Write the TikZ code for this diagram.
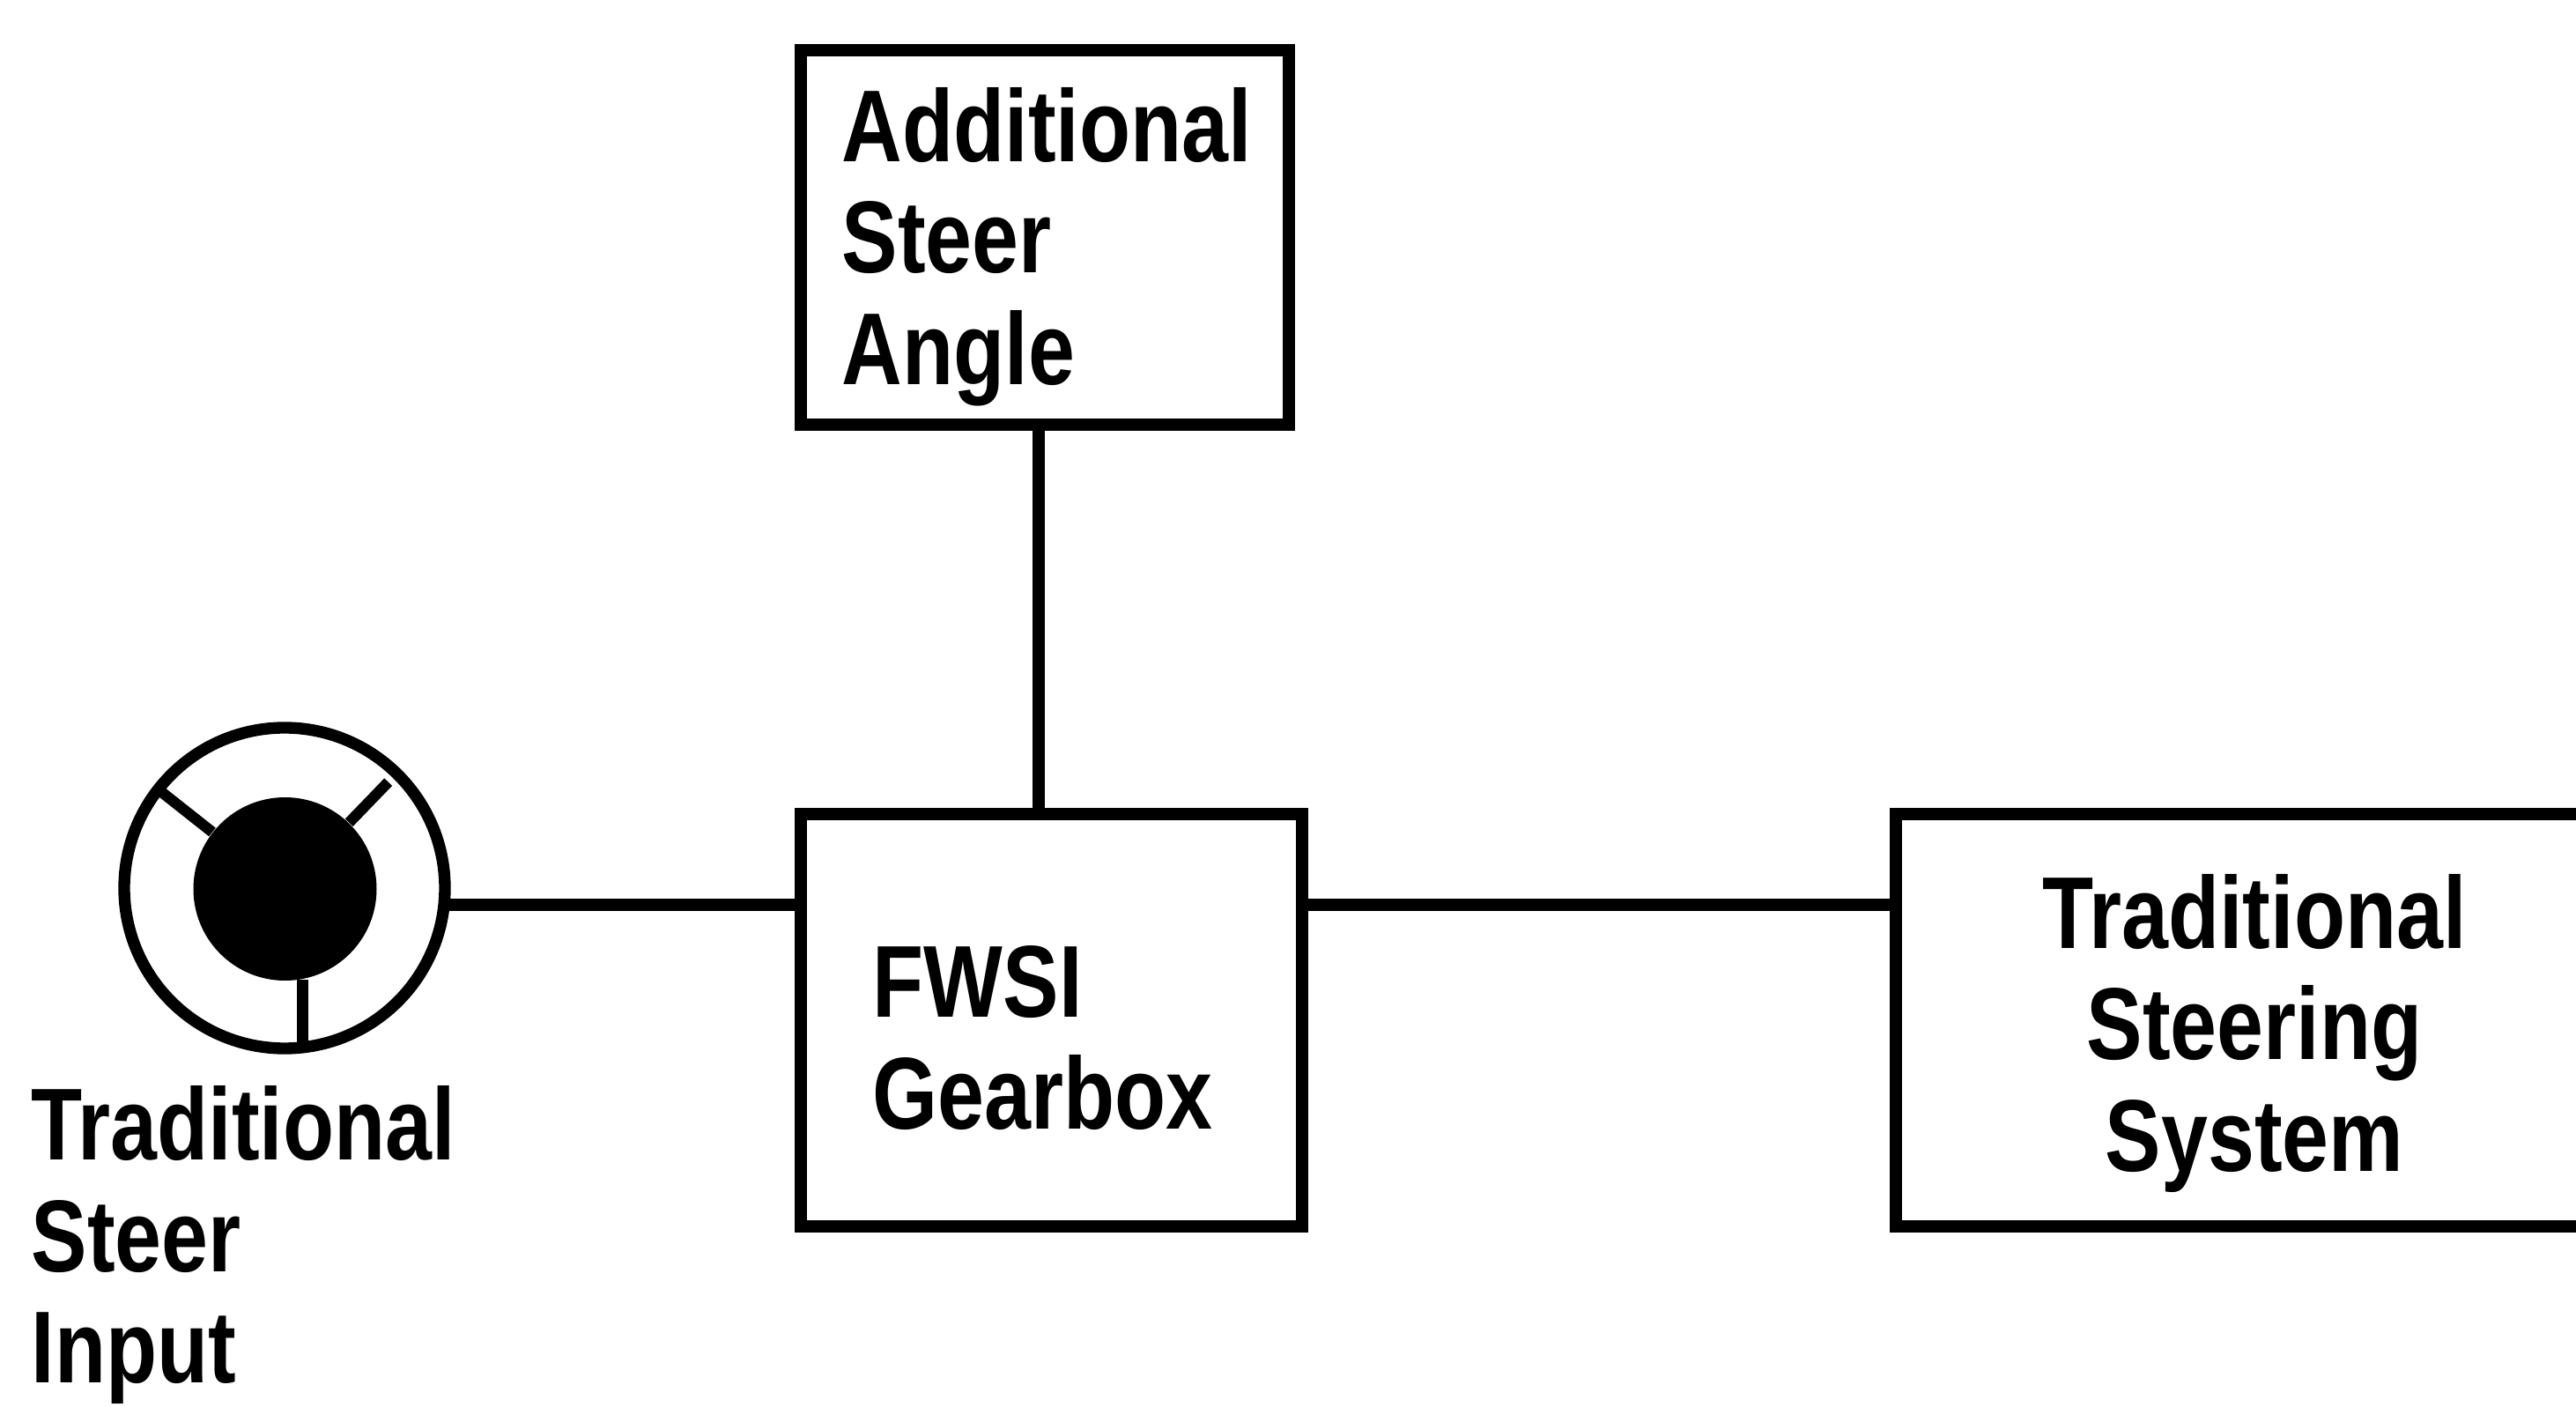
\documentclass[tikz,border=0pt]{standalone}
\usepackage{fontspec}
\newfontfamily\diagfont{Liberation Sans}[FakeStretch=0.82]
\begin{document}
\begin{tikzpicture}[
box/.style={rectangle, draw=black, line width=4pt, outer sep=0pt, inner sep=0pt},
lbl/.style={font={\diagfont\bfseries\fontsize{33pt}{36pt}\selectfont}, inner sep=0pt},
link/.style={line width=4pt},
spoke/.style={line width=3.5pt}
]
    \useasboundingbox (0,0) rectangle (29.24,15.96);
    \clip (0,0) rectangle (29.24,15.96);

    % steering wheel
    \node [circle, draw=black, line width=3.8pt, minimum size=3.64cm, inner sep=0pt, outer sep=0pt] (wheel) at (3.23,5.88) {};
    \node [circle, fill=black, minimum size=2.08cm, inner sep=0pt] (hub) at (3.235,5.87) {};
    \draw [spoke] (hub.142) -- (wheel.142);
    \draw [spoke] (hub.46) -- ++(46:0.64);
    \draw [spoke] (hub.-79) -- (hub.-79 |- wheel.south);
    \node [lbl, align=left, anchor=north west] (wheeltext) at (0.35,3.64) {Traditional\\Steer\\Input};

    % boxes
    \node [box, minimum width=5.54cm, minimum height=4.25cm] (angle) at (11.86,13.265) {};
    \node [box, minimum width=5.69cm, minimum height=4.68cm] (gear) at (11.935,4.38) {};
    \node [box, minimum width=9cm, minimum height=4.68cm] (steer) at (26.02,4.38) {};

    \node [lbl, align=left, anchor=west] (angletext) at ([xshift=0.46cm,yshift=-0.105cm]angle.west) {Additional\\Steer\\Angle};
    \node [lbl, align=left, anchor=west] (geartext) at ([xshift=0.81cm,yshift=-0.2cm]gear.west) {FWSI\\Gearbox};
    \node [lbl, align=center] (steertext) at ([xshift=4.07cm,yshift=-0.15cm]steer.west) {Traditional\\Steering\\System};

    % links
    \draw [link] (wheel.-6) -- (wheel.-6 -| gear.west);
    \draw [link] (gear.east |- wheel.-6) -- (wheel.-6 -| steer.west);
    \draw [link] ([xshift=-0.7mm]angle.south) -- ([xshift=-0.7mm]angle.south |- gear.north);
\end{tikzpicture}
\end{document}
